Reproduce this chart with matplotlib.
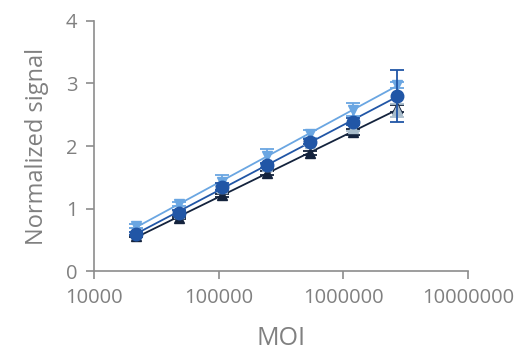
import numpy as np
import matplotlib.pyplot as plt

moi = [21700, 47900, 106000, 242000, 545000, 1200000, 2700000]

# four replicate series (mean, error)
light = [0.72, 1.07, 1.42, 1.84, 2.19, 2.58, 2.98]
light_err = [0.03, 0.03, 0.12, 0.12, 0.06, 0.10, 0.05]
mid = [0.60, 0.93, 1.35, 1.69, 2.07, 2.39, 2.80]
mid_err = [0.03, 0.04, 0.06, 0.04, 0.04, 0.06, 0.42]
navy = [0.56, 0.85, 1.21, 1.57, 1.89, 2.22, 2.60]
navy_err = [0.02, 0.02, 0.03, 0.03, 0.03, 0.05, 0.05]
gray = [0.72, 0.93, 1.33, 1.68, 2.05, 2.29, 2.57]
gray_err = [0.03, 0.03, 0.03, 0.03, 0.03, 0.05, 0.10]

c_light = "#6aa6e2"
c_mid = "#2156a6"
c_navy = "#14233d"
c_gray = "#a8bccb"
c_axis = "#8c8c8c"
c_text = "#808080"

plt.rcParams['font.family'] = ['Open Sans', 'DejaVu Sans']

fig = plt.figure(figsize=(5.17, 3.54), dpi=100)
ax = fig.add_axes([0.182, 0.234, 0.723, 0.707])

x = np.array(moi)
lx = np.log10(x)


def trend(vals, color):
    k, b = np.polyfit(lx, vals, 1)
    ax.plot(x, k * lx + b, color=color, lw=1.3, zorder=2)


trend(navy, c_navy)
trend(mid, c_mid)
trend(light, c_light)

ax.errorbar(moi, navy, yerr=navy_err, fmt="^", color=c_navy, ms=7.5,
            capsize=5, elinewidth=1.3, capthick=1.3, zorder=3)
ax.errorbar(moi, gray, yerr=gray_err, fmt="^", color=c_gray, ms=7.5,
            capsize=5, elinewidth=1.3, capthick=1.3, zorder=3)
ax.errorbar(moi, light, yerr=light_err, fmt="v", color=c_light, ms=7.5,
            capsize=5, elinewidth=1.3, capthick=1.3, zorder=4)
ax.errorbar(moi, mid, yerr=mid_err, fmt="o", color=c_mid, ms=9,
            capsize=5, elinewidth=1.3, capthick=1.3, zorder=5)

ax.set_xscale("log")
ax.set_xlim(1e4, 1e7)
ax.set_ylim(0, 4)
ax.set_xticks([1e4, 1e5, 1e6, 1e7])
ax.set_xticklabels(["10000", "100000", "1000000", "10000000"])
ax.minorticks_off()
ax.set_yticks([0, 1, 2, 3, 4])

for s in ["top", "right"]:
    ax.spines[s].set_visible(False)
for s in ["left", "bottom"]:
    ax.spines[s].set_color(c_axis)
    ax.spines[s].set_linewidth(1.2)
ax.tick_params(colors=c_axis, labelcolor=c_text, labelsize=14.5,
               length=6, width=1.2)
ax.tick_params(axis="x", pad=6)
ax.tick_params(axis="y", pad=6)

ax.set_xlabel("MOI", color=c_text, fontsize=18, labelpad=13)
ax.set_ylabel("Normalized signal", color=c_text, fontsize=17, labelpad=12)

fig.savefig("out.png", dpi=100)
